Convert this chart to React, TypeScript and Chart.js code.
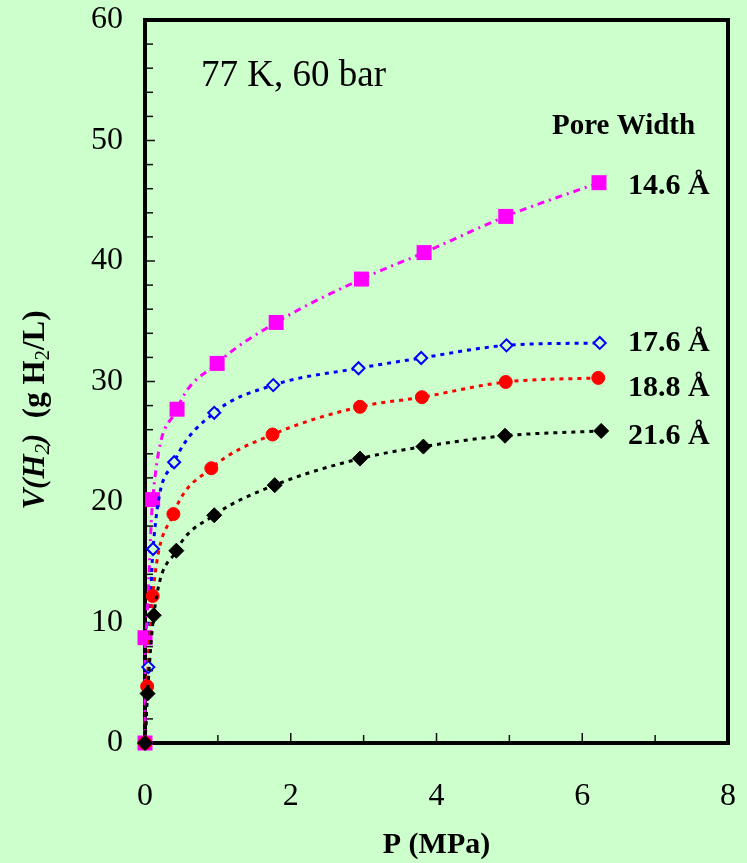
import React, { useEffect, useRef } from "react";
import { Chart, registerables } from "chart.js";

Chart.register(...registerables);

// Pressure (MPa) and H2 uptake (g H2/L) for each pore width
const p146 = [0, 0, 0.105, 0.44, 0.99, 1.8, 2.97, 3.83, 4.95, 6.23];
const v146 = [0, 8.74, 20.2, 27.7, 31.5, 34.9, 38.5, 40.7, 43.7, 46.5];

const p176 = [0, 0.045, 0.11, 0.4, 0.95, 1.76, 2.93, 3.79, 4.96, 6.24];
const v176 = [0, 6.3, 16.1, 23.3, 27.4, 29.7, 31.1, 31.95, 33.0, 33.2];

const p188 = [0, 0.03, 0.105, 0.39, 0.91, 1.75, 2.95, 3.8, 4.95, 6.22];
const v188 = [0, 4.7, 12.2, 19.0, 22.8, 25.6, 27.9, 28.7, 29.96, 30.3];

const p216 = [0, 0.035, 0.12, 0.43, 0.95, 1.78, 2.95, 3.82, 4.94, 6.26];
const v216 = [0, 4.1, 10.6, 15.96, 18.9, 21.4, 23.6, 24.6, 25.5, 25.9];

const seriesLabels = ["14.6 Å", "17.6 Å", "18.8 Å", "21.6 Å"];
const xTicks = [0, 2, 4, 6, 8];
const yTicks = [0, 10, 20, 30, 40, 50, 60];

const SERIF = '"Liberation Serif", "Times New Roman", serif';
const BG = "#ccffcc";

const toPts = (xs: number[], ys: number[]) => xs.map((x, i) => ({ x, y: ys[i] }));

const zeroPad = (s: any) => {
  s.paddingLeft = 0;
  s.paddingRight = 0;
  s.paddingTop = 0;
  s.paddingBottom = 0;
};

const decorPlugin = {
  id: "decor",
  beforeDatasetsDraw(chart: any) {
    const { ctx, chartArea, scales } = chart;
    const { left, right, top, bottom } = chartArea;
    const xs = scales.x;
    const ys = scales.y;
    ctx.save();
    // inward tick marks
    ctx.strokeStyle = "#111";
    ctx.lineWidth = 1.5;
    for (let v = 1; v < 8; v++) {
      const px = xs.getPixelForValue(v);
      const len = v % 2 === 0 ? 10 : 8;
      ctx.beginPath();
      ctx.moveTo(px, bottom);
      ctx.lineTo(px, bottom - len);
      ctx.stroke();
    }
    for (let v = 2; v < 60; v += 2) {
      const py = ys.getPixelForValue(v);
      const len = v % 10 === 0 ? 10 : 8;
      ctx.beginPath();
      ctx.moveTo(left, py);
      ctx.lineTo(left + len, py);
      ctx.stroke();
    }
    // frame
    ctx.strokeStyle = "#000";
    ctx.lineWidth = 4;
    ctx.strokeRect(left, top, right - left, bottom - top);
    ctx.restore();
  },
  afterDraw(chart: any) {
    const { ctx } = chart;
    ctx.save();
    ctx.fillStyle = "#000";
    // condition annotation
    ctx.font = `37px ${SERIF}`;
    ctx.textBaseline = "alphabetic";
    ctx.textAlign = "left";
    ctx.fillText("77 K, 60 bar", 201, 86);
    // legend-like labels
    ctx.font = `bold 29px ${SERIF}`;
    ctx.textBaseline = "middle";
    ctx.fillText("Pore Width", 552, 127);
    ctx.font = `bold 30px ${SERIF}`;
    const labelYs = [186, 343, 388, 436];
    seriesLabels.forEach((t, i) => ctx.fillText(t, 628, labelYs[i]));

    // y-axis title with italic part and subscripts
    ctx.translate(44, 410);
    ctx.rotate(-Math.PI / 2);
    ctx.textBaseline = "alphabetic";
    const segs = [
      { t: "V(H", f: `italic bold 31px ${SERIF}`, dy: 0 },
      { t: "2", f: `italic 21px ${SERIF}`, dy: 5 },
      { t: ")", f: `italic bold 31px ${SERIF}`, dy: 0 },
      { t: "  (g H", f: `bold 31px ${SERIF}`, dy: 0 },
      { t: "2", f: `21px ${SERIF}`, dy: 5 },
      { t: "/L)", f: `bold 31px ${SERIF}`, dy: 0 },
    ];
    let total = 0;
    const widths = segs.map((s) => {
      ctx.font = s.f;
      const w = ctx.measureText(s.t).width;
      total += w;
      return w;
    });
    let x = -total / 2;
    segs.forEach((s, i) => {
      ctx.font = s.f;
      ctx.fillText(s.t, x, s.dy);
      x += widths[i];
    });
    ctx.restore();
  },
};

export default function App() {
  const ref = useRef<HTMLCanvasElement | null>(null);

  useEffect(() => {
    if (!ref.current) return;
    const common = {
      showLine: true,
      cubicInterpolationMode: "monotone" as const,
      borderWidth: 3,
      clip: false as const,
    };
    const chart = new Chart(ref.current, {
      type: "scatter",
      data: {
        datasets: [
          {
            ...common,
            label: seriesLabels[3],
            data: toPts(p216, v216),
            borderColor: "#000000",
            borderDash: [4, 5],
            pointStyle: "rectRot",
            pointRadius: 7.5,
            pointBackgroundColor: "#000000",
            pointBorderColor: "#000000",
            pointBorderWidth: 1,
          },
          {
            ...common,
            label: seriesLabels[2],
            data: toPts(p188, v188),
            borderColor: "#ff0000",
            borderDash: [4, 5],
            pointStyle: "circle",
            pointRadius: 6.5,
            pointBackgroundColor: "#ff0000",
            pointBorderColor: "#ff0000",
            pointBorderWidth: 1,
          },
          {
            ...common,
            label: seriesLabels[1],
            data: toPts(p176, v176),
            borderColor: "#0000ff",
            borderDash: [4, 5],
            pointStyle: "rectRot",
            pointRadius: 6,
            pointBackgroundColor: BG,
            pointBorderColor: "#0000ff",
            pointBorderWidth: 2,
          },
          {
            ...common,
            label: seriesLabels[0],
            data: toPts(p146, v146),
            borderColor: "#ff00ff",
            borderDash: [7, 5, 2, 5],
            pointStyle: "rect",
            pointRadius: 10.6,
            pointBackgroundColor: "#ff00ff",
            pointBorderColor: "#ff00ff",
            pointBorderWidth: 0,
          },
        ],
      },
      options: {
        animation: false,
        responsive: false,
        maintainAspectRatio: false,
        layout: { padding: { top: 20, right: 19, left: 0, bottom: 0 } },
        plugins: { legend: { display: false }, tooltip: { enabled: false } },
        scales: {
          x: {
            type: "linear",
            min: 0,
            max: 8,
            afterBuildTicks: (s: any) => {
              s.ticks = xTicks.map((v) => ({ value: v }));
            },
            ticks: { font: { family: SERIF, size: 32 }, color: "#000", padding: 34 },
            grid: { display: false, drawTicks: false },
            border: { display: false },
            title: {
              display: true,
              text: "P (MPa)",
              color: "#000",
              font: { family: SERIF, size: 30, weight: "bold" },
              padding: 0,
            },
            afterFit: (s: any) => {
              s.height = 120;
              zeroPad(s);
            },
          },
          y: {
            type: "linear",
            min: 0,
            max: 60,
            afterBuildTicks: (s: any) => {
              s.ticks = yTicks.map((v) => ({ value: v }));
            },
            ticks: { font: { family: SERIF, size: 32 }, color: "#000", padding: 22 },
            grid: { display: false, drawTicks: false },
            border: { display: false },
            afterFit: (s: any) => {
              s.width = 145;
              zeroPad(s);
            },
          },
        },
      },
      plugins: [decorPlugin],
    } as any);
    return () => chart.destroy();
  }, []);

  return (
    <div
      style={{
        position: "absolute",
        left: 0,
        top: 0,
        width: 747,
        height: 863,
        background: BG,
      }}
    >
      <canvas ref={ref} width={747} height={863} style={{ display: "block" }} />
    </div>
  );
}
